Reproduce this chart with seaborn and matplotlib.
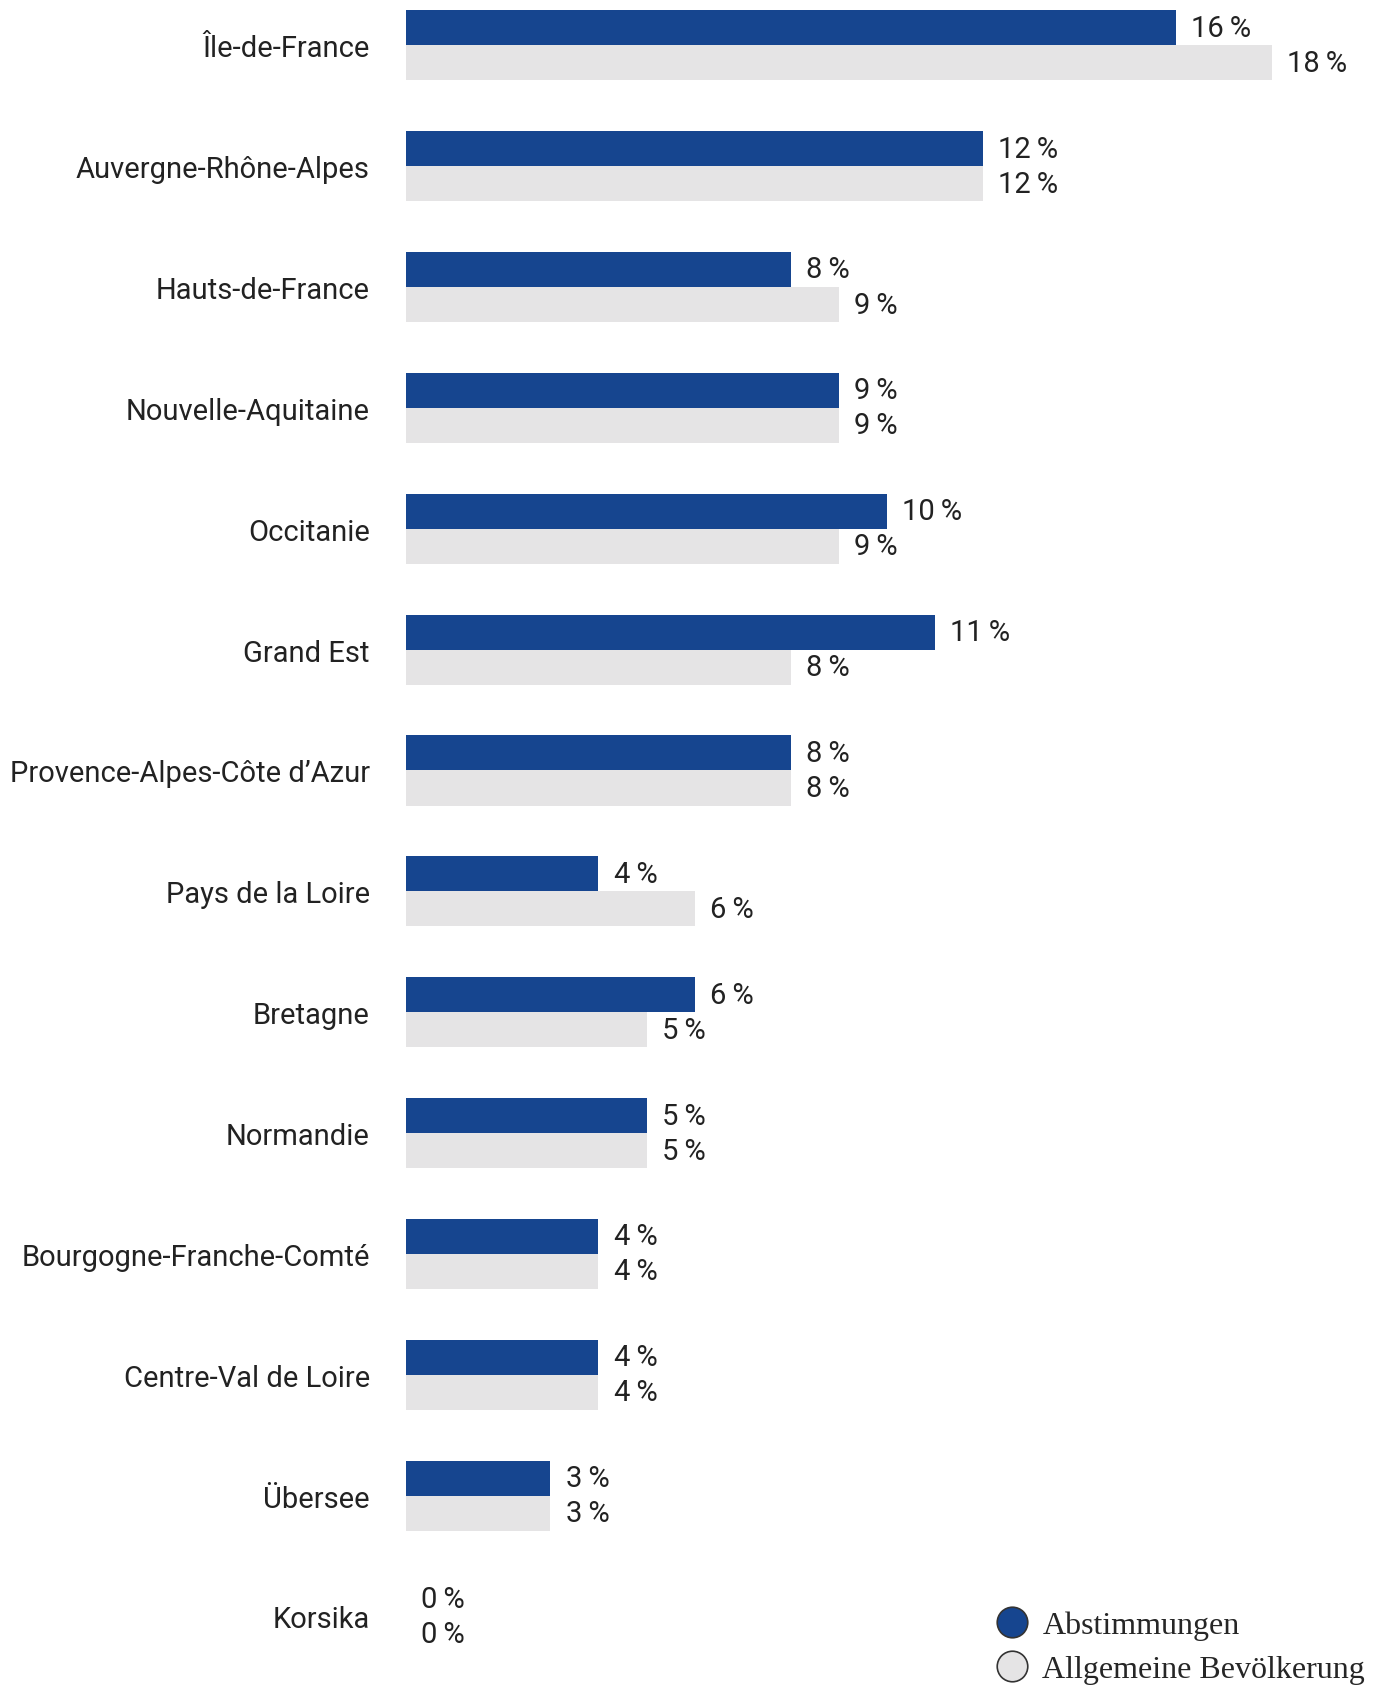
import matplotlib
matplotlib.use("Agg")
import matplotlib.pyplot as plt
from matplotlib.lines import Line2D
import seaborn as sns
import pandas as pd

regions = [
    "Île-de-France", "Auvergne-Rhône-Alpes", "Hauts-de-France", "Nouvelle-Aquitaine",
    "Occitanie", "Grand Est", "Provence-Alpes-Côte d’Azur", "Pays de la Loire",
    "Bretagne", "Normandie", "Bourgogne-Franche-Comté", "Centre-Val de Loire",
    "Übersee", "Korsika",
]
abstimmungen = [16, 12, 8, 9, 10, 11, 8, 4, 6, 5, 4, 4, 3, 0]
bevoelkerung = [18, 12, 9, 9, 9, 8, 8, 6, 5, 5, 4, 4, 3, 0]
series_names = ["Abstimmungen", "Allgemeine Bevölkerung"]
colors = ["#16458F", "#E5E4E5"]

df = pd.DataFrame({
    "region": regions * 2,
    "wert": abstimmungen + bevoelkerung,
    "serie": [series_names[0]] * len(regions) + [series_names[1]] * len(regions),
})

sns.set_style("white")
plt.rcParams["font.family"] = ["Roboto", "DejaVu Sans"]

W, H = 1387, 1690
left_px = 406
fig = plt.figure(figsize=(W / 100, H / 100), dpi=100)
ax = fig.add_axes([left_px / W, 0, 1 - left_px / W, 1])

sns.barplot(data=df, y="region", x="wert", hue="serie", orient="h",
            palette=colors, width=0.58, dodge=True, legend=False,
            saturation=1, linewidth=0, ax=ax, errorbar=None)

ax.set_xlim(0, (W - left_px) / 48.1)
ax.set_ylim(13.60, -0.383)
ax.set_xlabel("")
ax.set_ylabel("")
ax.set_xticks([])
for s in ax.spines.values():
    s.set_visible(False)
ax.tick_params(axis="y", length=0, pad=26, labelsize=21, labelcolor="#222222")

for container in ax.containers:
    ax.bar_label(container, labels=[f"{v:g}\u2009%" for v in container.datavalues],
                 padding=11, fontsize=21, color="#222222")

handles = [
    Line2D([], [], marker="o", linestyle="none", markersize=22,
           markerfacecolor=c, markeredgecolor="#333333", markeredgewidth=1.2)
    for c in colors
]
fig.legend(handles, series_names, loc="lower right", bbox_to_anchor=(1.005, -0.014),
           frameon=False, handlelength=1.0, handletextpad=0.45, labelspacing=0.45,
           prop={"family": ["Liberation Serif", "DejaVu Serif"], "size": 23})

fig.savefig("out.png", dpi=100, facecolor="white")
